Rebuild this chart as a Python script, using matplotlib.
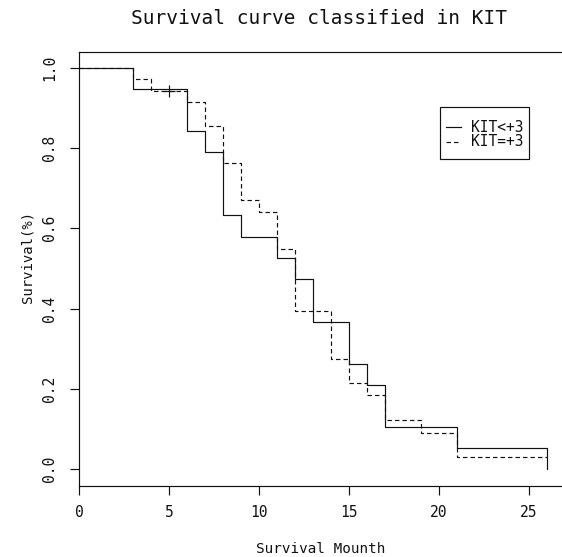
import matplotlib
matplotlib.use("Agg")
import matplotlib.pyplot as plt
from matplotlib.patches import Rectangle
from matplotlib.lines import Line2D

# ---- data ----
solid_label = "KIT<+3"
solid_times = [0, 3, 6, 7, 8, 9, 11, 12, 13, 15, 16, 17, 21, 26]
solid_surv = [1.0, 0.947, 0.842, 0.789, 0.632, 0.579, 0.526, 0.474, 0.368, 0.263, 0.211, 0.105, 0.053, 0.0]

dashed_label = "KIT=+3"
dashed_times = [0, 3, 4, 6, 7, 8, 9, 10, 11, 12, 14, 15, 16, 17, 19, 21, 26]
dashed_surv = [1.0, 0.971, 0.943, 0.914, 0.856, 0.762, 0.671, 0.641, 0.549, 0.395, 0.275, 0.215, 0.185, 0.123, 0.091, 0.030, 0.030]

censor_times = [5]
censor_surv = [0.943]

xticks = [0, 5, 10, 15, 20, 25]
yticks = [0.0, 0.2, 0.4, 0.6, 0.8, 1.0]
title = "Survival curve classified in KIT"
xlabel = "Survival Mounth"
ylabel = "Survival(%)"

# ---- layout ----
W, H = 562, 557
DPI = 100
plt.rcParams['lines.scale_dashes'] = False
fig = plt.figure(figsize=(W / DPI, H / DPI), dpi=DPI)

left_px, right_px = 79, 600
top_px, bottom_px = 52, 486
px_per_x = 18.0
y1_px, y0_px = 67.7, 469.3
px_per_y = y0_px - y1_px

ax = fig.add_axes([left_px / W, 1 - bottom_px / H,
                   (right_px - left_px) / W, (bottom_px - top_px) / H])
ax.set_xlim(0, (right_px - left_px) / px_per_x)
ax.set_ylim(-(bottom_px - y0_px) / px_per_y, 1 + (y1_px - top_px) / px_per_y)

ink = "#111111"
LW = 0.85
DASH = (3.2, 2.2)
ax.step(solid_times, solid_surv, where="post", color=ink, lw=LW)
ax.step(dashed_times, dashed_surv, where="post", color=ink, lw=LW, dashes=DASH)
ax.plot(censor_times, censor_surv, ls="none", marker="+", ms=8, mew=LW, color=ink)

for s in ax.spines.values():
    s.set_linewidth(LW)
    s.set_color(ink)
ax.spines["right"].set_visible(False)

tick_font = dict(family=["DejaVu Sans Mono"], size=10.5)
ax.set_xticks(xticks)
ax.set_xticklabels([str(t) for t in xticks], fontdict=tick_font)
ax.set_yticks(yticks)
ax.set_yticklabels([f"{t:.1f}" for t in yticks], fontdict=tick_font,
                   rotation=90, va="center")
ax.tick_params(axis="both", direction="out", length=6.5, width=LW, color=ink,
               labelcolor=ink)
ax.tick_params(axis="x", pad=7)
ax.tick_params(axis="y", pad=9)

def fx(px):
    return px / W

def fy(py):
    return 1 - py / H

fig.text(fx(319), fy(19), title, ha="center", va="center",
         family="DejaVu Sans Mono", size=14, color=ink)
fig.text(fx(321), fy(549), xlabel, ha="center", va="center",
         family="DejaVu Sans Mono", size=10.3, color=ink)
fig.text(fx(28), fy(257), ylabel, ha="center", va="center", rotation=90,
         family="DejaVu Sans Mono", size=10, color=ink)

# legend box drawn in figure pixel positions
fig.patches.append(Rectangle((fx(440), fy(159)), fx(529) - fx(440), fy(107) - fy(159),
                             transform=fig.transFigure, fill=False,
                             edgecolor=ink, lw=LW))
for label, yy, style in [(solid_label, 127, None), (dashed_label, 142, DASH)]:
    ln = Line2D([fx(446), fx(461)], [fy(yy), fy(yy)], transform=fig.transFigure,
                color=ink, lw=LW)
    if style is not None:
        ln.set_dashes(style)
    fig.lines.append(ln)
    fig.text(fx(471), fy(yy), label, ha="left", va="center",
             family="DejaVu Sans Mono", size=10.5, color=ink)

fig.savefig("out.png", dpi=DPI)
